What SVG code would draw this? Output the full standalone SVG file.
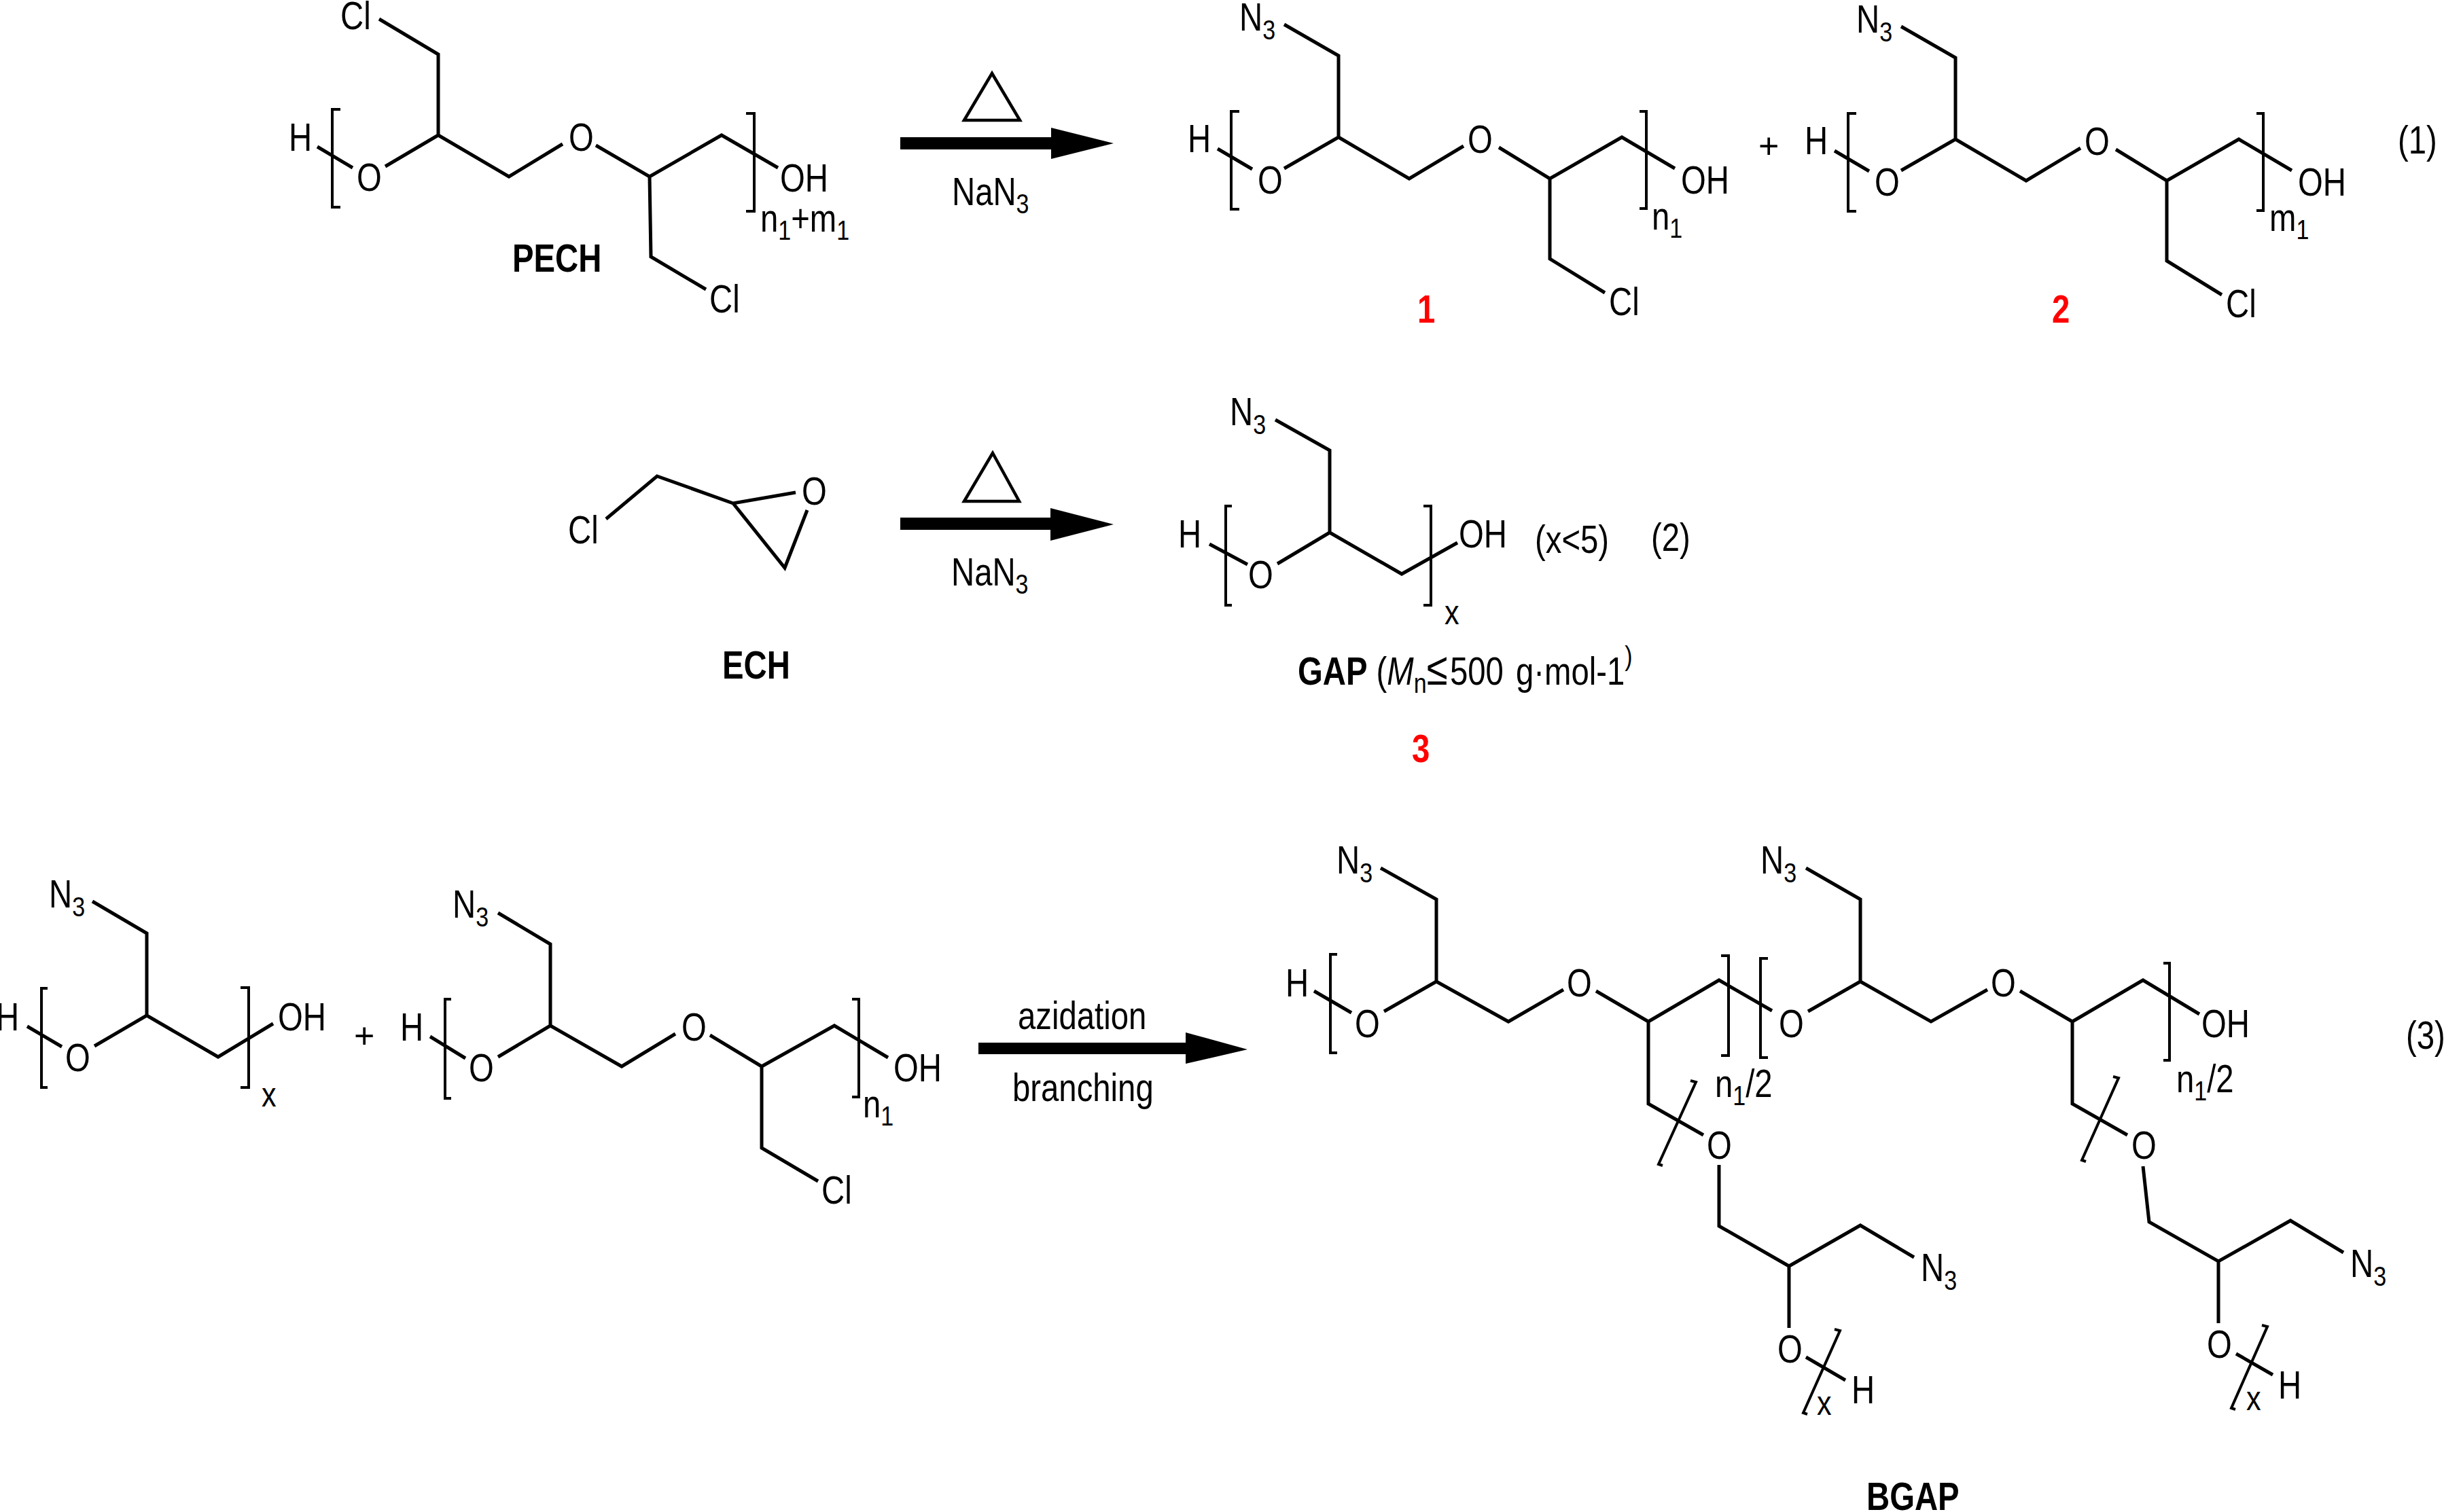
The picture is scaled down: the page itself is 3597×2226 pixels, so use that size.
<svg xmlns="http://www.w3.org/2000/svg" width="3597" height="2226" viewBox="0 0 3597 2226">
<style>
.b{fill:none;stroke:#000;stroke-width:5;stroke-linejoin:miter;stroke-linecap:butt}
.br{fill:none;stroke:#000;stroke-width:4}
.t{font-family:"Liberation Sans",Arial,sans-serif;font-size:57px;fill:#000;transform-box:fill-box;transform-origin:0 0;transform:scaleX(.83)}
.s{font-size:41px}
.bd{font-weight:700}
.r{fill:#f00;font-weight:700}
.i{font-style:italic}
.p{font-family:"Liberation Sans",Arial,sans-serif;font-size:52px;fill:#000}
.tri{fill:none;stroke:#000;stroke-width:4.5}
.ah{fill:#000}
</style>
<rect width="3597" height="2226" fill="#fff"/>
<g id="PECH">
<path class="b" d="M558 28L645 80V199L567 245M645 199L749 260L828 212M877 214L956 260L1062 199L1145 247M956 260L958 378L1039 426M467 216L519 247"/>
<path class="br" d="M501 161H489V305H501M1098 167H1110V311H1098"/>
<text class="t" x="501" y="43">Cl</text><text class="t" x="425" y="222">H</text><text class="t" x="525" y="281">O</text><text class="t" x="837" y="222">O</text><text class="t" x="1148" y="282">OH</text>
<text class="t" x="1119" y="341">n<tspan class="s" dy="12">1</tspan><tspan dy="-12">+m</tspan><tspan class="s" dy="12">1</tspan></text>
<text class="t bd" x="754" y="400">PECH</text><text class="t" x="1044" y="460">Cl</text>
</g>
<g id="product-1">
<path class="b" d="M1890 36L1970 82V202L1890 248M1970 202L2074 263L2154 215M2206 217L2281 263L2387 202L2465 248M2281 263V381L2362 431M1792 219L1843 249"/>
<path class="br" d="M1824 164H1812V308H1824M2413 164H2423V307H2413"/>
<text class="t" x="1824" y="45">N<tspan class="s" dy="13">3</tspan></text><text class="t" x="1748" y="224">H</text><text class="t" x="1851" y="285">O</text><text class="t" x="2160" y="225">O</text><text class="t" x="2474" y="285">OH</text>
<text class="t" x="2431" y="338">n<tspan class="s" dy="12">1</tspan></text><text class="t" x="2368" y="464">Cl</text>
<text class="t r" x="2086" y="475">1</text>
</g>
<g id="product-2">
<path class="b" d="M2798 39L2878 85V205L2798 251M2878 205L2982 266L3062 218M3114 220L3189 266L3295 205L3373 251M3189 266V384L3270 434M2700 222L2751 252"/>
<path class="br" d="M2732 167H2720V311H2732M3321 167H3331V310H3321"/>
<text class="t" x="2732" y="48">N<tspan class="s" dy="13">3</tspan></text><text class="t" x="2656" y="227">H</text><text class="t" x="2759" y="288">O</text><text class="t" x="3068" y="228">O</text><text class="t" x="3382" y="288">OH</text>
<text class="t" x="3340" y="340">m<tspan class="s" dy="12">1</tspan></text><text class="t" x="3276" y="467">Cl</text>
<text class="t r" x="3020" y="475">2</text>
</g>
<text class="p" x="2588" y="233">+</text>
<text class="t" x="3529" y="226">(1)</text>
<g id="ECH">
<path class="b" d="M892 764L967 701L1079 741L1171 725M1079 741L1155 836L1188 751"/>
<text class="t" x="836" y="800">Cl</text><text class="t" x="1180" y="743">O</text><text class="t bd" x="1063" y="999">ECH</text>
</g>
<g id="GAP">
<path class="b" d="M1877 618L1957 663V784L1880 830M1957 784L2063 845L2145 799M1780 801L1836 831"/>
<path class="br" d="M1813 745H1804V891H1813M2095 745H2106V891H2095"/>
<text class="t" x="1810" y="626">N<tspan class="s" dy="13">3</tspan></text><text class="t" x="1734" y="806">H</text><text class="t" x="1837" y="866">O</text><text class="t" x="2147" y="806">OH</text>
<text class="t" x="2126" y="919" style="font-size:52px">x</text><text class="t" x="2259" y="814">(x&lt;5)</text><text class="t" x="2430" y="811">(2)</text>
<text class="t" x="1910" y="1008"><tspan class="bd">GAP</tspan> (<tspan class="i">M</tspan><tspan class="s" dy="12">n</tspan><tspan dy="-12" style="font-size:68px">≤</tspan><tspan dx="4">500</tspan> <tspan dx="6">g·mol-1</tspan><tspan class="s" dy="-28">)</tspan></text>
<text class="t r" x="2078" y="1122">3</text>
</g>
<g id="GAP-reactant">
<path class="b" d="M136 1327L216 1374V1495L139 1540M216 1495L321 1556L402 1507M40 1511L91 1541"/>
<path class="br" d="M70 1455H61V1601H70M354 1454H366V1601H354"/>
<text class="t" x="72" y="1336">N<tspan class="s" dy="13">3</tspan></text><text class="t" x="-6" y="1517">H</text><text class="t" x="96" y="1577">O</text><text class="t" x="409" y="1517">OH</text>
<text class="t" x="385" y="1629" style="font-size:52px">x</text>
</g>
<text class="p" x="521" y="1543">+</text>
<g id="polymer-1-reactant">
<path class="b" d="M733 1344L810 1390V1510L733 1556M810 1510L915 1570L994 1522M1045 1524L1121 1570L1228 1510L1307 1557M1121 1570V1690L1204 1739M633 1526L685 1558"/>
<path class="br" d="M664 1471H655V1617H664M1254 1471H1264V1615H1254"/>
<text class="t" x="666" y="1351">N<tspan class="s" dy="13">3</tspan></text><text class="t" x="589" y="1532">H</text><text class="t" x="690" y="1592">O</text><text class="t" x="1003" y="1532">O</text><text class="t" x="1315" y="1592">OH</text>
<text class="t" x="1270" y="1645">n<tspan class="s" dy="12">1</tspan></text><text class="t" x="1209" y="1772">Cl</text>
</g>
<g id="BGAP">
<path class="b" d="M2032 1278L2114 1324V1445L2037 1489M2114 1445L2220 1504L2301 1457M2349 1459L2426 1504L2530 1443L2608 1488M2426 1504V1625L2507 1671M1934 1459L1989 1491"/>
<path class="b" d="M2658 1278L2738 1324V1445L2661 1489M2738 1445L2842 1504L2925 1457M2973 1459L3050 1504L3154 1443L3237 1493M3050 1504V1625L3131 1671"/>
<path class="b" d="M2530 1715V1805L2633 1864L2738 1804L2817 1851M2633 1864V1955M2658 1998L2716 2032"/>
<path class="b" d="M3154 1717L3163 1799L3265 1857L3371 1797L3449 1844M3265 1857V1948M3291 1993L3345 2024"/>
<path class="br" d="M1968 1405H1958V1550H1968M2533 1407H2544V1554H2533M2602 1411H2591V1557H2602M3184 1418H3193V1561H3184"/>
<path class="br" d="M2488 1591L2496 1593L2441 1714L2447 1716M2700 1957L2708 1959L2654 2080L2660 2082M3110 1585L3118 1587L3064 1708L3070 1710M3329 1951L3337 1953L3284 2073L3290 2075"/>
<text class="t" x="1967" y="1286">N<tspan class="s" dy="13">3</tspan></text><text class="t" x="2591" y="1286">N<tspan class="s" dy="13">3</tspan></text>
<text class="t" x="1892" y="1467">H</text><text class="t" x="1994" y="1527">O</text><text class="t" x="2306" y="1467">O</text><text class="t" x="2618" y="1527">O</text><text class="t" x="2930" y="1467">O</text><text class="t" x="3240" y="1527">OH</text>
<text class="t" x="2524" y="1615">n<tspan class="s" dy="12">1</tspan><tspan dy="-12">/2</tspan></text><text class="t" x="3203" y="1608">n<tspan class="s" dy="12">1</tspan><tspan dy="-12">/2</tspan></text>
<text class="t" x="2512" y="1706">O</text><text class="t" x="3137" y="1706">O</text>
<text class="t" x="2827" y="1886">N<tspan class="s" dy="13">3</tspan></text><text class="t" x="3459" y="1880">N<tspan class="s" dy="13">3</tspan></text>
<text class="t" x="2616" y="2006">O</text><text class="t" x="3248" y="1999">O</text>
<text class="t" x="2725" y="2066">H</text><text class="t" x="3353" y="2059">H</text>
<text class="t" x="2674" y="2083" style="font-size:52px">x</text><text class="t" x="3306" y="2076" style="font-size:52px">x</text>
<text class="t bd" x="2747" y="2223">BGAP</text>
</g>
<text class="t" x="3541" y="1544">(3)</text>
<g id="connectors">
<path class="ah" d="M1325 202H1547V188L1639 211L1547 234V220H1325Z"/>
<path class="ah" d="M1325 762H1546V748L1639 772L1546 796V780H1325Z"/>
<path class="ah" d="M1440 1535H1745V1520L1836 1545L1745 1566V1552H1440Z"/>
</g>
<g id="reaction-labels">
<path class="tri" d="M1460 108L1419 177H1501Z"/><path class="tri" d="M1461 667L1419 738H1500Z"/>
<text class="t" x="1401" y="302">NaN<tspan class="s" dy="12">3</tspan></text><text class="t" x="1400" y="862">NaN<tspan class="s" dy="12">3</tspan></text>
<text class="t" x="1498" y="1515">azidation</text><text class="t" x="1490" y="1621">branching</text>
</g>
</svg>
